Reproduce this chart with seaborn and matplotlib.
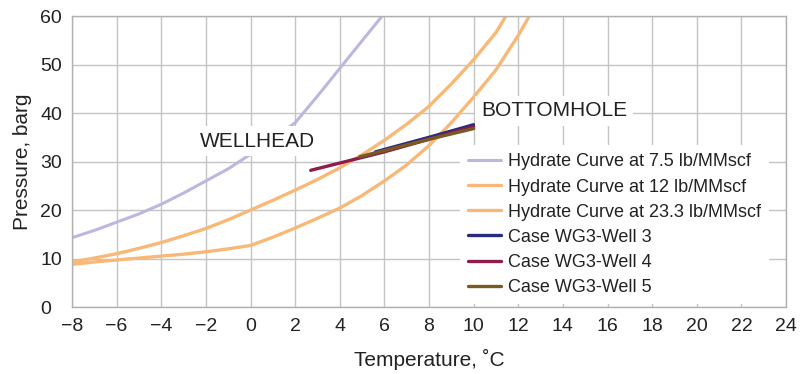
import pandas as pd
import matplotlib.pyplot as plt
import seaborn as sns

sns.set_style("white")
plt.rcParams['font.family'] = ['Liberation Sans', 'DejaVu Sans']

# Hydrate curves (temperature degC, pressure barg)
t_75 = [-8, -7, -6, -5, -4, -3, -2, -1, 0, 1, 2, 3, 4, 5, 5.9]
p_75 = [14.3, 15.8, 17.5, 19.2, 21.2, 23.5, 26.0, 28.5, 31.5, 34.6, 38.0, 43.5, 49.2, 54.9, 60.0]

t_12 = [-8, -7, -6, -5, -4, -3, -2, -1, 0, 1, 2, 3, 4, 5, 6, 7, 8, 9, 10, 11, 11.45]
p_12 = [9.3, 10.1, 11.0, 12.1, 13.3, 14.7, 16.2, 18.0, 20.0, 22.0, 24.1, 26.3, 28.7, 31.4,
        34.4, 37.7, 41.4, 46.0, 51.0, 56.6, 60.0]

t_233 = [-8, -7, -6, -5, -4, -3, -2, -1, 0, 1, 2, 3, 4, 5, 6, 7, 8, 9, 10, 11, 12, 12.5]
p_233 = [8.8, 9.3, 9.7, 10.1, 10.5, 10.9, 11.4, 12.0, 12.7, 14.4, 16.3, 18.3, 20.4, 23.0,
         26.0, 29.3, 33.3, 38.0, 43.3, 48.9, 56.0, 60.0]

# Well cases
t_w3 = [5.6, 8.0, 10.0]
p_w3 = [32.0, 35.0, 37.6]
t_w4 = [2.7, 6.0, 10.0]
p_w4 = [28.2, 32.0, 37.2]
t_w5 = [4.9, 8.0, 10.0]
p_w5 = [31.0, 34.6, 36.8]

series = [
    ("Hydrate Curve at 7.5 lb/MMscf", t_75, p_75, "#bdb7de", 2.2),
    ("Hydrate Curve at 12 lb/MMscf", t_12, p_12, "#f8b877", 2.4),
    ("Hydrate Curve at 23.3 lb/MMscf", t_233, p_233, "#f8b877", 2.4),
    ("Case WG3-Well 3", t_w3, p_w3, "#2a2b7c", 2.4),
    ("Case WG3-Well 4", t_w4, p_w4, "#8c1d4d", 2.4),
    ("Case WG3-Well 5", t_w5, p_w5, "#7a5a22", 2.4),
]

fig = plt.figure(figsize=(8, 3.74), dpi=100)
ax = fig.add_axes([0.09, 0.179, 0.8925, 0.778])

for name, t, p, col, lw in series:
    df = pd.DataFrame({"Temperature": t, "Pressure": p})
    sns.lineplot(data=df, x="Temperature", y="Pressure", ax=ax, color=col, lw=lw,
                 label=name, sort=False, estimator=None, solid_capstyle='round')

ax.set_xlim(-8, 24)
ax.set_ylim(0, 60)
ax.set_xticks(range(-8, 25, 2))
ax.set_yticks(range(0, 61, 10))
ax.grid(True, color="#c4c4c4", lw=1)
ax.set_axisbelow(True)
for s in ax.spines.values():
    s.set_color("#b0b0b0")
    s.set_linewidth(1)

ax.tick_params(axis='x', direction='in', length=5, color="#b0b0b0", labelsize=14, pad=8,
               labelcolor="#222222")
ax.tick_params(axis='y', length=0, labelsize=14, pad=23, labelcolor="#222222")
for lab in ax.get_yticklabels():
    lab.set_horizontalalignment('left')

ax.set_xlabel("Temperature, ˚C", fontsize=15, labelpad=10, color="#222222")
ax.set_ylabel("Pressure, barg", fontsize=15, labelpad=6, color="#222222")

box = dict(facecolor='white', edgecolor='none', pad=4)
ax.text(-2.26, 34.2, "WELLHEAD", fontsize=15, ha='left', va='center', bbox=box, zorder=5,
        color="#222222")
ax.text(10.33, 40.5, "BOTTOMHOLE", fontsize=15, ha='left', va='center', bbox=box, zorder=5,
        color="#222222")

leg = ax.legend(loc='upper left', bbox_to_anchor=(0.531, 0.587), fontsize=13,
                frameon=True, framealpha=1, edgecolor='none', facecolor='white',
                handlelength=1.8, handletextpad=0.4, labelspacing=0.45,
                borderpad=0.45, fancybox=False)
for txt in leg.get_texts():
    txt.set_color("#222222")
leg.set_zorder(6)

plt.savefig("out.png", dpi=100)
